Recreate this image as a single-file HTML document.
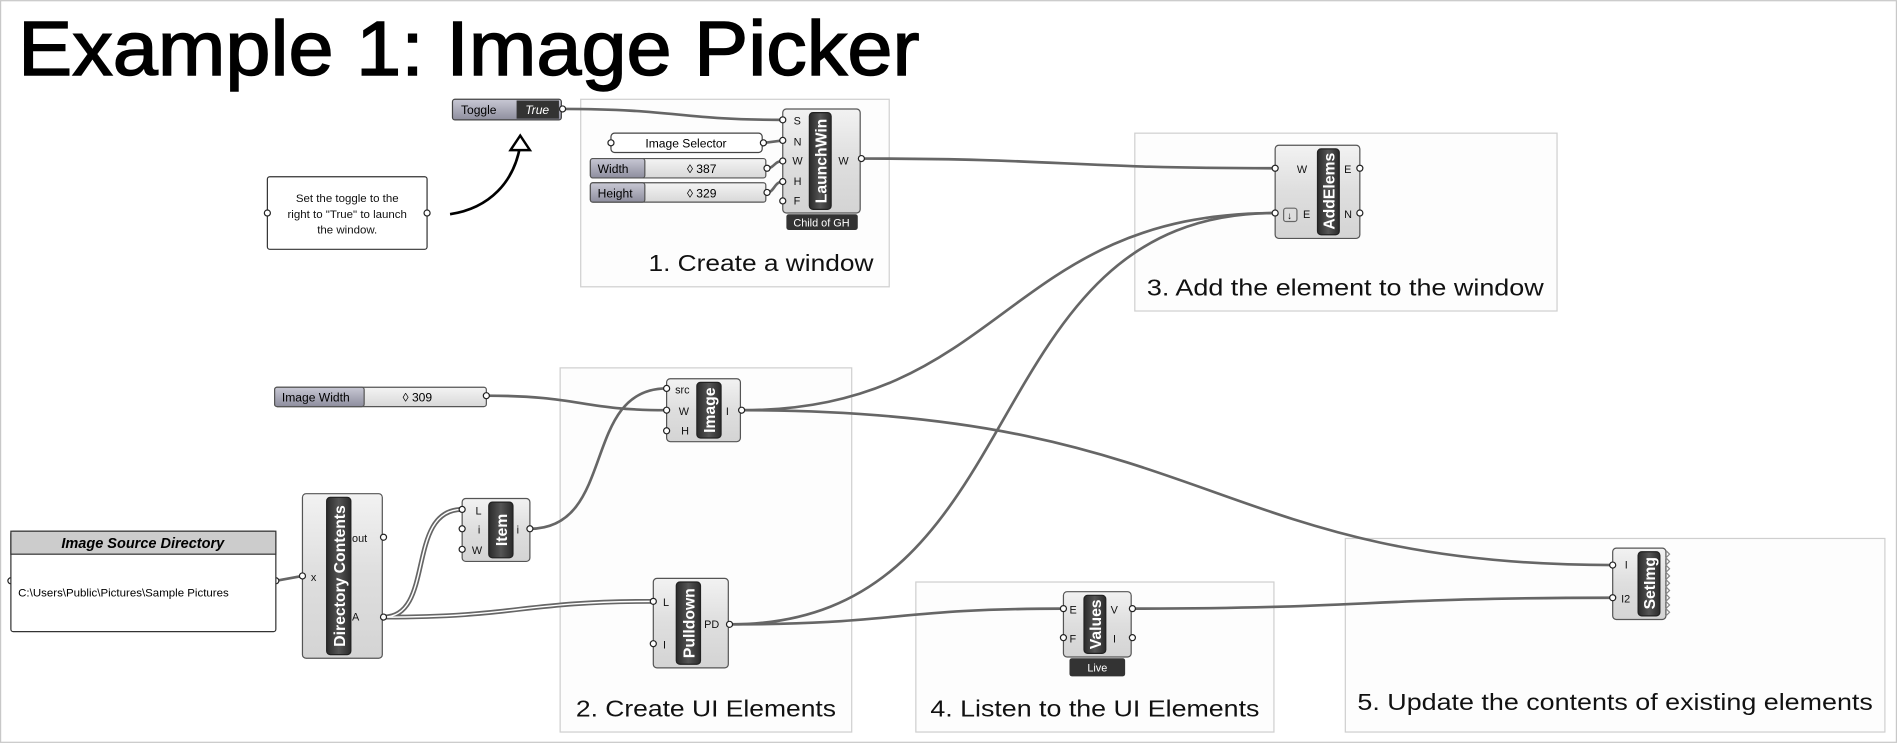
<!DOCTYPE html>
<html><head><meta charset="utf-8"><style>
html,body{margin:0;padding:0;background:#fff;width:1897px;height:743px;overflow:hidden}
svg{display:block}
text{font-family:"Liberation Sans",sans-serif}
</style></head><body>
<svg width="1897" height="743" viewBox="0 0 1568 614" xmlns="http://www.w3.org/2000/svg">
<defs>
<linearGradient id="body" x1="0" y1="0" x2="0" y2="1"><stop offset="0" stop-color="#f2f2f2"/><stop offset="0.5" stop-color="#dedede"/><stop offset="1" stop-color="#d4d4d4"/></linearGradient>
<linearGradient id="strip" x1="0" y1="0" x2="1" y2="0"><stop offset="0" stop-color="#2a2a2a"/><stop offset="0.5" stop-color="#555"/><stop offset="1" stop-color="#2a2a2a"/></linearGradient>
<linearGradient id="lab" x1="0" y1="0" x2="0" y2="1"><stop offset="0" stop-color="#c8c8d4"/><stop offset="1" stop-color="#8e8e9e"/></linearGradient>
<linearGradient id="sl" x1="0" y1="0" x2="0" y2="1"><stop offset="0" stop-color="#f4f4f4"/><stop offset="1" stop-color="#d8d8d8"/></linearGradient>
</defs>
<rect x="0.5" y="0.5" width="1567" height="613" fill="#fff" stroke="#c8c8c8"/>
<text x="15" y="62" font-size="64" stroke="#000" stroke-width="1.2" textLength="745" lengthAdjust="spacingAndGlyphs">Example 1: Image Picker</text>

<!-- groups -->
<g fill="#fdfdfd" stroke="#cfcfcf" stroke-width="1">
<rect x="480" y="82" width="255" height="155"/>
<rect x="938" y="110" width="349" height="147"/>
<rect x="463" y="304" width="241" height="301"/>
<rect x="757" y="481" width="296" height="124"/>
<rect x="1112" y="445" width="446" height="160"/>
</g>
<g font-size="19" fill="#111">
<text x="536" y="224" textLength="186" lengthAdjust="spacingAndGlyphs">1. Create a window</text>
<text x="948" y="244" textLength="328" lengthAdjust="spacingAndGlyphs">3. Add the element to the window</text>
<text x="476" y="592" textLength="215" lengthAdjust="spacingAndGlyphs">2. Create UI Elements</text>
<text x="769" y="592" textLength="272" lengthAdjust="spacingAndGlyphs">4. Listen to the UI Elements</text>
<text x="1122" y="587" textLength="426" lengthAdjust="spacingAndGlyphs">5. Update the contents of existing elements</text>
</g>

<!-- wires -->
<g fill="none" stroke="#666" stroke-width="2.2">
<path d="M465,90 C560,90 560,99 647,99"/>
<path d="M632,118 L647,116"/>
<path d="M634,139 C640,139 640,133 647,133"/>
<path d="M634,159 C640,159 640,150 647,150"/>
<path d="M712,131 C880,131 880,139 1054,139"/>
<path d="M613,339 C830,339 830,176 1054,176"/>
<path d="M613,339 C1000,339 1000,467 1333,467"/>
<path d="M604,516 C860,516 800,176 1054,176"/>
<path d="M604,516 C740,516 740,503 879,503"/>
<path d="M936,503 C1130,503 1130,494 1333,494"/>
<path d="M402,327 C480,327 480,339 551,339"/>
<path d="M438,437 C510,437 480,321 551,321"/>
<path d="M228,480 L250,476"/>
</g>
<g fill="none" stroke="#666" stroke-width="4"><path d="M317,510 C360,510 335,421 382,421"/><path d="M317,510 C430,510 430,497 540,497"/></g>
<g fill="none" stroke="#fff" stroke-width="1.2"><path d="M317,510 C360,510 335,421 382,421"/><path d="M317,510 C430,510 430,497 540,497"/></g>

<!-- arrow -->
<path d="M372,177 C405,172 425,150 430,120" fill="none" stroke="#000" stroke-width="2.2"/>
<path d="M422,124 L430,112 L438,124 Z" fill="#fff" stroke="#000" stroke-width="2"/>

<!-- note -->
<rect x="221" y="146" width="132" height="60" rx="2" fill="#fff" stroke="#333"/>
<g font-size="9.5" text-anchor="middle" fill="#111"><text x="287" y="167">Set the toggle to the</text><text x="287" y="180">right to "True" to launch</text><text x="287" y="193">the window.</text></g>

<!-- toggle -->
<rect x="374" y="82" width="90" height="17" rx="2" fill="url(#lab)" stroke="#444"/>
<text x="381" y="94" font-size="10">Toggle</text>
<rect x="427" y="83" width="35" height="15" fill="#333"/>
<text x="444" y="94" font-size="10" fill="#fff" font-style="italic" text-anchor="middle">True</text>

<!-- panel image selector -->
<rect x="505" y="110" width="125" height="16" rx="3" fill="#fff" stroke="#444"/>
<text x="567" y="122" font-size="10" text-anchor="middle">Image Selector</text>

<!-- sliders -->
<g font-size="10">
<rect x="488" y="131" width="145" height="16" rx="2" fill="url(#sl)" stroke="#555"/>
<rect x="488" y="131" width="45" height="16" rx="2" fill="url(#lab)" stroke="#555"/>
<text x="494" y="143">Width</text><text x="580" y="143" text-anchor="middle">◊ 387</text>
<rect x="488" y="151" width="145" height="16" rx="2" fill="url(#sl)" stroke="#555"/>
<rect x="488" y="151" width="45" height="16" rx="2" fill="url(#lab)" stroke="#555"/>
<text x="494" y="163">Height</text><text x="580" y="163" text-anchor="middle">◊ 329</text>
<rect x="227" y="320" width="175" height="16" rx="2" fill="url(#sl)" stroke="#555"/>
<rect x="227" y="320" width="74" height="16" rx="2" fill="url(#lab)" stroke="#555"/>
<text x="233" y="332">Image Width</text><text x="345" y="332" text-anchor="middle">◊ 309</text>
</g>

<!-- components -->
<g stroke="#555" fill="url(#body)">
<rect x="647" y="90" width="64" height="86" rx="3"/>
<rect x="1054" y="120" width="70" height="77" rx="3"/>
<rect x="551" y="313" width="61" height="52" rx="3"/>
<rect x="250" y="408" width="66" height="136" rx="3"/>
<rect x="382" y="412" width="56" height="52" rx="3"/>
<rect x="540" y="478" width="62" height="74" rx="3"/>
<rect x="879" y="489" width="56" height="54" rx="3"/>
<rect x="1333" y="453" width="44" height="59" rx="3"/>
</g>
<path d="M1377,455 l3,3 -3,3 3,3 -3,3 3,3 -3,3 3,3 -3,3 3,3 -3,3 3,3 -3,3 3,3 -3,3 3,3 -3,3 3,3 -3,3" fill="none" stroke="#888"/>
<g fill="url(#strip)" stroke="#222">
<rect x="669" y="93" width="18" height="80" rx="3"/>
<rect x="1089" y="123" width="18" height="71" rx="3"/>
<rect x="576" y="316" width="20" height="46" rx="3"/>
<rect x="270" y="411" width="20" height="130" rx="3"/>
<rect x="404" y="415" width="20" height="46" rx="3"/>
<rect x="559" y="481" width="20" height="68" rx="3"/>
<rect x="896" y="492" width="18" height="48" rx="3"/>
<rect x="1354" y="456" width="18" height="53" rx="3"/>
</g>
<g fill="#fff" font-weight="bold" font-size="13" text-anchor="middle">
<text transform="translate(683,133) rotate(-90)">LaunchWin</text>
<text transform="translate(1103,158) rotate(-90)">AddElems</text>
<text transform="translate(591,339) rotate(-90)">Image</text>
<text transform="translate(285,476) rotate(-90)">Directory Contents</text>
<text transform="translate(419,438) rotate(-90)">Item</text>
<text transform="translate(574,515) rotate(-90)">Pulldown</text>
<text transform="translate(910,516) rotate(-90)">Values</text>
<text transform="translate(1368,482) rotate(-90)">SetImg</text>
</g>
<rect x="650" y="177" width="59" height="13" rx="2" fill="#333"/>
<text x="679" y="187" font-size="9" fill="#fff" text-anchor="middle">Child of GH</text>
<rect x="884" y="544" width="46" height="15" rx="2" fill="#333"/>
<text x="907" y="555" font-size="9" fill="#fff" text-anchor="middle">Live</text>

<!-- port labels -->
<g font-size="9" fill="#111">
<text x="656" y="103">S</text><text x="656" y="120">N</text><text x="655" y="136">W</text><text x="656" y="153">H</text><text x="656" y="169">F</text><text x="693" y="136">W</text>
<text x="1072" y="143">W</text><text x="1077" y="180">E</text><text x="1111" y="143">E</text><text x="1111" y="180">N</text>
<text x="558" y="325">src</text><text x="561" y="343">W</text><text x="563" y="359">H</text><text x="600" y="343">I</text>
<text x="257" y="480">x</text><text x="291" y="448">out</text><text x="291" y="513">A</text>
<text x="393" y="425">L</text><text x="395" y="441">i</text><text x="390" y="458">W</text><text x="427" y="441">i</text>
<text x="548" y="501">L</text><text x="548" y="536">I</text><text x="582" y="519">PD</text>
<text x="884" y="507">E</text><text x="884" y="531">F</text><text x="918" y="507">V</text><text x="920" y="531">I</text>
<text x="1343" y="470">I</text><text x="1340" y="498">I2</text>
</g>
<rect x="1061" y="172" width="11" height="11" rx="2" fill="#ddd" stroke="#666"/>
<text x="1066" y="181" font-size="8" text-anchor="middle">↓</text>

<!-- port circles -->
<g fill="#fff" stroke="#222" stroke-width="1">
<circle cx="647" cy="99" r="2.5"/><circle cx="647" cy="116" r="2.5"/><circle cx="647" cy="133" r="2.5"/><circle cx="647" cy="150" r="2.5"/><circle cx="647" cy="166" r="2.5"/><circle cx="712" cy="131" r="2.5"/>
<circle cx="1054" cy="139" r="2.5"/><circle cx="1054" cy="176" r="2.5"/><circle cx="1124" cy="139" r="2.5"/><circle cx="1124" cy="176" r="2.5"/>
<circle cx="551" cy="321" r="2.5"/><circle cx="551" cy="339" r="2.5"/><circle cx="551" cy="356" r="2.5"/><circle cx="613" cy="339" r="2.5"/>
<circle cx="250" cy="476" r="2.5"/><circle cx="317" cy="444" r="2.5"/><circle cx="317" cy="510" r="2.5"/>
<circle cx="382" cy="421" r="2.5"/><circle cx="382" cy="437" r="2.5"/><circle cx="382" cy="454" r="2.5"/><circle cx="438" cy="437" r="2.5"/>
<circle cx="540" cy="497" r="2.5"/><circle cx="540" cy="532" r="2.5"/><circle cx="603" cy="516" r="2.5"/>
<circle cx="879" cy="503" r="2.5"/><circle cx="879" cy="527" r="2.5"/><circle cx="936" cy="503" r="2.5"/><circle cx="936" cy="527" r="2.5"/>
<circle cx="1333" cy="467" r="2.5"/><circle cx="1333" cy="494" r="2.5"/>
<circle cx="465" cy="90" r="2.5"/><circle cx="505" cy="118" r="2.5"/><circle cx="631" cy="118" r="2.5"/><circle cx="634" cy="139" r="2.5"/><circle cx="634" cy="159" r="2.5"/>
<circle cx="402" cy="327" r="2.5"/><circle cx="221" cy="176" r="2.5"/><circle cx="353" cy="176" r="2.5"/>
<circle cx="9" cy="480" r="2.5"/><circle cx="228" cy="480" r="2.5"/>
</g>

<!-- image source directory panel -->
<rect x="9" y="439" width="219" height="83" rx="2" fill="#fff" stroke="#333"/>
<rect x="9" y="439" width="219" height="19" fill="#ccc" stroke="#333"/>
<text x="118" y="453" font-size="12" font-weight="bold" font-style="italic" text-anchor="middle">Image Source Directory</text>
<text x="15" y="493" font-size="9.5">C:\Users\Public\Pictures\Sample Pictures</text>
</svg>
</body></html>
